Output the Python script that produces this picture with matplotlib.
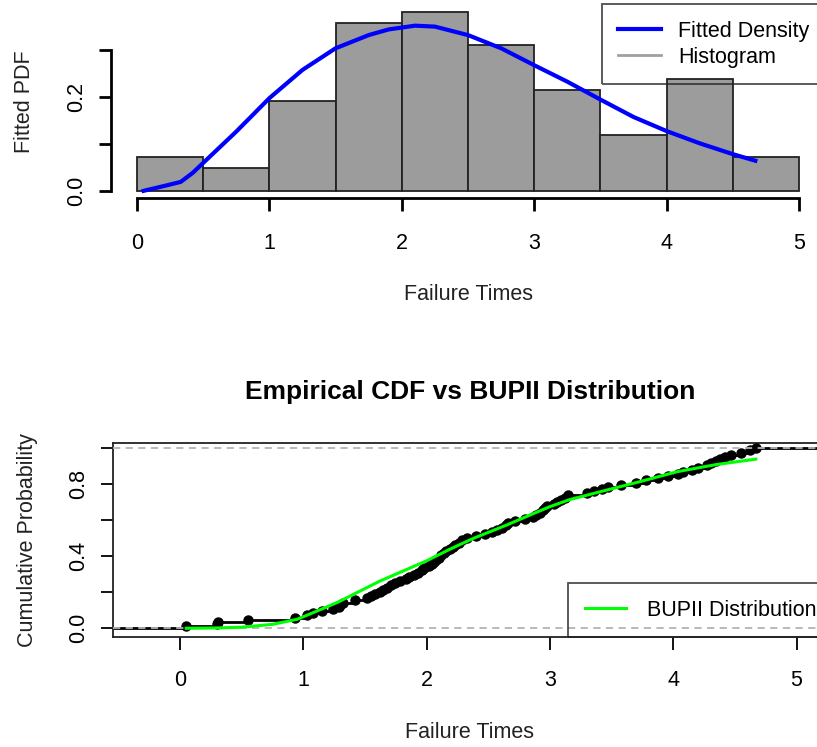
import numpy as np
import matplotlib.pyplot as plt

plt.rcParams['font.family'] = ['Liberation Sans', 'DejaVu Sans']
plt.rcParams['font.size'] = 15.5

failure_times = [0.05, 0.30, 0.31, 0.55, 0.93,
                 1.03, 1.08, 1.15, 1.24, 1.29, 1.30, 1.32, 1.42,
                 1.52, 1.55, 1.58, 1.62, 1.65, 1.68, 1.71, 1.74, 1.78, 1.83, 1.86, 1.90, 1.93, 1.96, 1.98,
                 2.02, 2.04, 2.06, 2.08, 2.10, 2.12, 2.14, 2.16, 2.19, 2.21, 2.23, 2.26, 2.29, 2.33, 2.40, 2.47,
                 2.53, 2.57, 2.61, 2.64, 2.66, 2.72, 2.80, 2.86, 2.89, 2.92, 2.94, 2.96, 2.98,
                 3.03, 3.06, 3.09, 3.12, 3.15, 3.30, 3.36, 3.42, 3.47,
                 3.58, 3.70, 3.78, 3.88, 3.96,
                 4.04, 4.08, 4.15, 4.20, 4.27, 4.31, 4.35, 4.38, 4.42, 4.47,
                 4.55, 4.62, 4.67]
bin_edges = [0, 0.5, 1, 1.5, 2, 2.5, 3, 3.5, 4, 4.5, 5]

# fitted BUPII density
pdf_x = [0.05, 0.2, 0.33, 0.42, 0.51, 0.75, 1.0, 1.25, 1.5, 1.75, 1.9, 2.1, 2.25, 2.5, 2.75,
         3.0, 3.25, 3.5, 3.75, 4.0, 4.25, 4.5, 4.67]
pdf_y = [0.0, 0.01, 0.019, 0.038, 0.062, 0.126, 0.197, 0.257, 0.303, 0.331, 0.343, 0.351, 0.349,
         0.331, 0.303, 0.267, 0.232, 0.194, 0.157, 0.127, 0.101, 0.078, 0.064]

# fitted BUPII cdf
cdf_x = [0.05, 0.3, 0.5, 0.75, 0.95, 1.08, 1.28, 1.62, 2.0, 2.19, 2.38, 2.65, 2.84,
         3.0, 3.16, 3.46, 3.73, 4.03, 4.35, 4.67]
cdf_y = [0.0, 0.002, 0.006, 0.022, 0.05, 0.087, 0.145, 0.262, 0.375, 0.44, 0.5, 0.574, 0.63,
         0.676, 0.715, 0.768, 0.815, 0.87, 0.91, 0.94]

W, H = 817, 747
fig = plt.figure(figsize=(W / 100, H / 100), dpi=100)

def px_axes(l, t, r, b):
    return fig.add_axes([l / W, 1 - b / H, (r - l) / W, (b - t) / H])

# ---- top: histogram + fitted density
ax1 = px_axes(110.5, 4.5, 825.5, 198)
ax1.hist(failure_times, bins=bin_edges, density=True, color='#9c9c9c',
         edgecolor='#222222', linewidth=1.3)
ax1.plot(pdf_x, pdf_y, color='blue', lw=3, label='Fitted Density')
ax1.plot([], [], color='#a0a0a0', lw=2, label='Histogram')
ax1.set_xlim(-0.2, 5.2)
ax1.set_ylim(-0.0152, 0.396)
for s in ['top', 'right']:
    ax1.spines[s].set_visible(False)
ax1.spines['left'].set_bounds(0, 0.3)
ax1.spines['bottom'].set_bounds(0, 5)
for s in ['left', 'bottom']:
    ax1.spines[s].set_linewidth(2)
ax1.set_xticks(range(6))
ax1.set_yticks([0, 0.1, 0.2, 0.3])
ax1.set_yticklabels(['0.0', '', '0.2', ''], rotation=90, va='center')
ax1.tick_params(length=9, width=2, pad=8, colors='black')
ax1.tick_params(axis='x', pad=16)
ax1.set_xlabel('Failure Times', labelpad=22, color='#222222')
ax1.set_ylabel('Fitted PDF', labelpad=22, color='#222222')
leg1 = ax1.legend(loc='upper right', borderaxespad=0,
                  fancybox=False, edgecolor='#222222', handlelength=2.0,
                  handletextpad=0.8, labelspacing=0.25, borderpad=0.75)
leg1.get_frame().set_linewidth(1.3)
leg1.get_frame().set_facecolor('none')

# ---- bottom: empirical cdf vs fitted cdf
ax2 = px_axes(112.7, 443.3, 827, 636.7)
xs = np.sort(failure_times)
n = len(xs)
ys = np.arange(1, n + 1) / n
x_lo, x_hi = -0.546, 5.247
ax2.hlines(ys[:-1], xs[:-1], xs[1:], color='black', lw=2, zorder=2)
ax2.hlines([0, 1], [x_lo, xs[-1]], [xs[0], x_hi], color='black', lw=2, zorder=2)
ax2.plot(xs, ys, 'o', color='black', ms=6.5, zorder=3)
ax2.axhline(0, color='#b3b3b3', ls=(0, (4, 3)), lw=1.3, zorder=4)
ax2.axhline(1, color='#b3b3b3', ls=(0, (4, 3)), lw=1.3, zorder=4)
ax2.plot(cdf_x, cdf_y, color='#00ff00', lw=2.2, zorder=5, label='BUPII Distribution')
ax2.set_xlim(x_lo, x_hi)
ax2.set_ylim(-0.0467, 1.028)
for s in ax2.spines.values():
    s.set_linewidth(1.3)
    s.set_color('#222222')
ax2.set_xticks(range(6))
ax2.set_yticks([0, 0.2, 0.4, 0.6, 0.8, 1.0])
ax2.set_yticklabels(['0.0', '', '0.4', '', '0.8', ''], rotation=90, va='center')
ax2.tick_params(length=9, width=1.3, pad=8)
ax2.tick_params(axis='x', pad=15)
ax2.set_xlabel('Failure Times', labelpad=22, color='#222222')
ax2.set_ylabel('Cumulative Probability', labelpad=22, color='#222222')
ax2.set_title('Empirical CDF vs BUPII Distribution', fontsize=19, fontweight='bold', pad=32)
leg2 = ax2.legend(loc='lower right', bbox_to_anchor=(1.008, 0), borderaxespad=0,
                  fancybox=False, edgecolor='#222222',
                  handlelength=1.9, handletextpad=1.0, borderpad=0.75)
leg2.get_frame().set_linewidth(1.3)
leg2.get_frame().set_facecolor('none')

fig.savefig('out.png', dpi=100)
